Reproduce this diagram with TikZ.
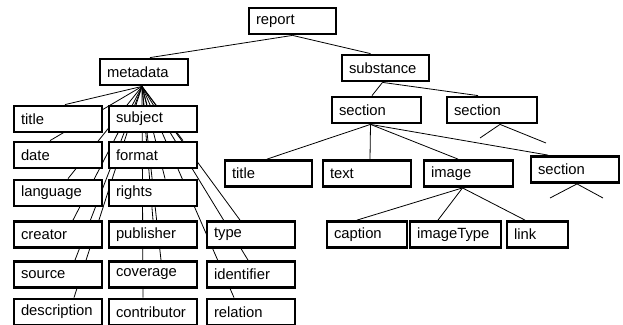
\documentclass[tikz,border=0pt]{standalone}
\usepackage{fontspec}
\setmainfont{Liberation Sans}
\pgfdeclarelayer{background}
\pgfsetlayers{background,main}
\begin{document}
\begin{tikzpicture}[x=1pt,y=-1pt,
  box/.style={draw, line width=2.8pt, fill=white, minimum height=26pt, inner xsep=7pt, inner ysep=0pt,
    text width=#1, align=left, font=\fontsize{14.8}{17}\selectfont},
  box/.default=74pt,
  conn/.style={line width=0.8pt}]
\useasboundingbox (0,0) rectangle (623,324);
\clip (0,0) rectangle (623,324);
\path
  node[box=73pt] (report) at (292.5,21) {report}
  node[box] (metadata) at (144,72) {metadata}
  node[box=73pt] (substance) at (385.5,68) {substance}
  node[box=75pt] (section1) at (376.5,110) {section}
  node[box=76pt] (section2) at (492,110) {section}
  node[box=73pt] (titleR) at (268.5,173.5) {title}
  node[box] (text) at (367,173.5) {text}
  node[box=75pt] (image) at (468.5,173.5) {image}
  node[box] (section3) at (575,169.5) {section}
  node[box=66pt] (caption) at (367,234.5) {caption}
  node[box=77pt] (imageType) at (455.5,234.5) {imageType}
  node[box=47pt] (link) at (537.5,234.5) {link}
  node[box] (title) at (58,119) {title}
  node[box] (subject) at (153,119) {subject}
  node[box] (date) at (58,155) {date}
  node[box] (format) at (153,155) {format}
  node[box] (language) at (58,193) {language}
  node[box] (rights) at (153,193) {rights}
  node[box] (creator) at (58,234.5) {creator}
  node[box] (publisher) at (153,234.5) {publisher}
  node[box] (type) at (251,234.5) {type}
  node[box] (source) at (58,274.5) {source}
  node[box] (coverage) at (153,274.5) {coverage}
  node[box] (identifier) at (251,274.5) {identifier}
  node[box] (description) at (58,312) {description}
  node[box] (contributor) at (153,312) {contributor}
  node[box] (relation) at (251,312) {relation};
\begin{pgfonlayer}{background}
\coordinate (mo) at ([xshift=-2pt]metadata.south);
\draw[conn] (report.south) -- ([xshift=6pt]metadata.north);
\draw[conn] (report.south) -- ([xshift=-15pt]substance.north);
\foreach \n/\s in {title/7,date/-8,language/10,creator/15,source/17,description/16,
  subject/-6,format/30,rights/12,publisher/0,coverage/8,contributor/-10,
  type/-11,identifier/-3,relation/-17}
  \draw[conn] (mo) -- ([xshift=\s pt]\n.north);
\coordinate (so) at ([xshift=-3pt]substance.south);
\draw[conn] (so) -- ([xshift=-4.5pt]section1.north);
\draw[conn] (so) -- ([xshift=-14pt]section2.north);
\coordinate (s1o) at ([xshift=-6pt]section1.south);
\draw[conn] (s1o) -- ([xshift=-1.5pt]titleR.north);
\draw[conn] (s1o) -- ([xshift=3pt]text.north);
\draw[conn] (s1o) -- ([xshift=-10.5pt]image.north);
\draw[conn] (s1o) -- ([xshift=-27pt]section3.north);
\coordinate (io) at ([xshift=-6pt]image.south);
\draw[conn] (io) -- ([xshift=-10pt]caption.north);
\draw[conn] (io) -- ([xshift=-17.5pt]imageType.north);
\draw[conn] (io) -- ([xshift=-12.5pt]link.north);
\coordinate (s2a) at (480,138);
\coordinate (s2b) at (546,143);
\draw[conn] (s2a) -- ([xshift=8pt]section2.south) -- (s2b);
\coordinate (s3a) at (550,198);
\coordinate (s3b) at (603,198);
\draw[conn] (s3a) -- ([xshift=2pt]section3.south) -- (s3b);
\end{pgfonlayer}
\end{tikzpicture}
\end{document}
